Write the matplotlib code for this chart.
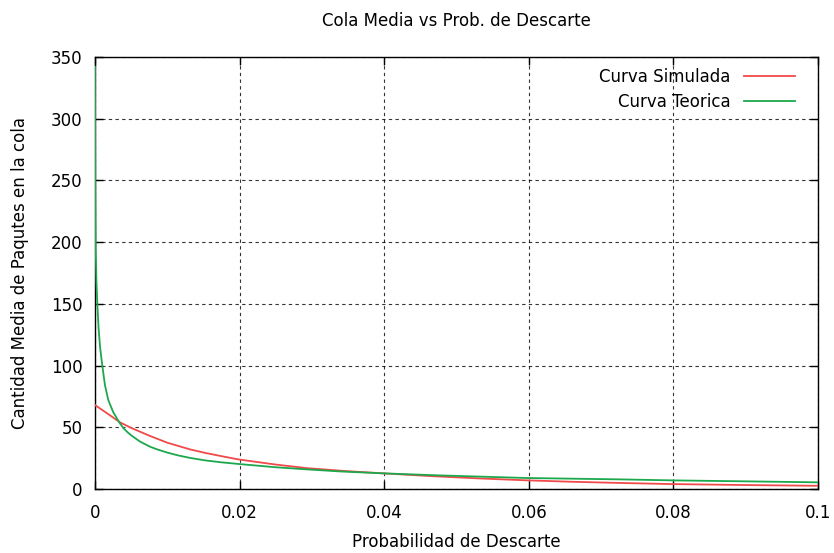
import matplotlib
matplotlib.use("Agg")
import matplotlib.pyplot as plt

# Probability of discard vs mean queue length
x_sim = [0.0, 0.001, 0.002, 0.00346, 0.005, 0.0076, 0.01, 0.01314, 0.0152, 0.0175,
         0.0198, 0.025, 0.0293, 0.0345, 0.0398, 0.0463, 0.053, 0.0598, 0.0663,
         0.0726, 0.0797, 0.09, 0.1]
y_sim = [68.0, 64.0, 60.0, 54.0, 49.5, 43.0, 37.5, 32.1, 29.3, 26.6,
         24.0, 19.8, 16.9, 14.6, 12.7, 10.5, 8.6, 7.0, 5.8,
         4.9, 4.0, 3.2, 2.6]

x_teo = [0.0, 0.00002, 0.00005, 0.0001, 0.0002, 0.00032, 0.0005, 0.0007, 0.00101,
         0.00138, 0.00184, 0.0025, 0.003, 0.00336, 0.0039, 0.0045, 0.005,
         0.0062, 0.0076, 0.0085, 0.01, 0.0115, 0.01314, 0.0152, 0.0175, 0.0198,
         0.025, 0.0293, 0.034, 0.0398, 0.0477, 0.0598, 0.0726, 0.0797, 0.09, 0.1]
y_teo = [342.0, 290.0, 240.0, 194.0, 168.0, 150.0, 130.0, 115.0, 100.0,
         84.0, 72.0, 62.5, 57.5, 54.0, 49.5, 46.0, 43.5,
         38.5, 34.3, 32.3, 29.5, 27.2, 25.2, 23.2, 21.6, 20.3,
         17.6, 15.9, 14.2, 12.7, 11.0, 8.9, 7.8, 7.0, 6.2, 5.4]

x_ticks = [0.0, 0.02, 0.04, 0.06, 0.08, 0.1]
x_tick_labels = ["0", "0.02", "0.04", "0.06", "0.08", "0.1"]
y_ticks = [0, 50, 100, 150, 200, 250, 300, 350]

FS = 12

fig = plt.figure(figsize=(8.34, 5.53), dpi=100)
ax = fig.add_axes([95 / 834, 1 - 489 / 553, 723 / 834, 432 / 553])

ax.plot(x_sim, y_sim, color="#f04a4a", lw=1.3, label="Curva Simulada", zorder=3)
ax.plot(x_teo, y_teo, color="#1ca84c", lw=1.3, label="Curva Teorica", zorder=3)

ax.set_xlim(0, 0.1)
ax.set_ylim(0, 350)
ax.set_xticks(x_ticks)
ax.set_xticklabels(x_tick_labels)
ax.set_yticks(y_ticks)
ax.tick_params(direction="in", length=6, width=1, top=True, right=True,
               labelsize=FS, colors="black")
ax.tick_params(axis="y", pad=9)
ax.tick_params(axis="x", pad=11)
ax.grid(True, color="black", linestyle=(0, (3, 3)), linewidth=0.8, alpha=0.8)
for s in ax.spines.values():
    s.set_linewidth(1.0)
    s.set_color("black")

ax.set_title("Cola Media vs Prob. de Descarte", fontsize=FS, pad=22)
ax.set_xlabel("Probabilidad de Descarte", fontsize=FS, labelpad=8)
ax.set_ylabel("Cantidad Media de Paqutes en la cola", fontsize=FS, labelpad=15.5)

leg = ax.legend(loc="upper right", frameon=False, markerfirst=False,
                handlelength=3.1, fontsize=FS, labelspacing=0.45,
                bbox_to_anchor=(0.985, 1.002), borderaxespad=0.3)

fig.savefig("out.png", dpi=100)
